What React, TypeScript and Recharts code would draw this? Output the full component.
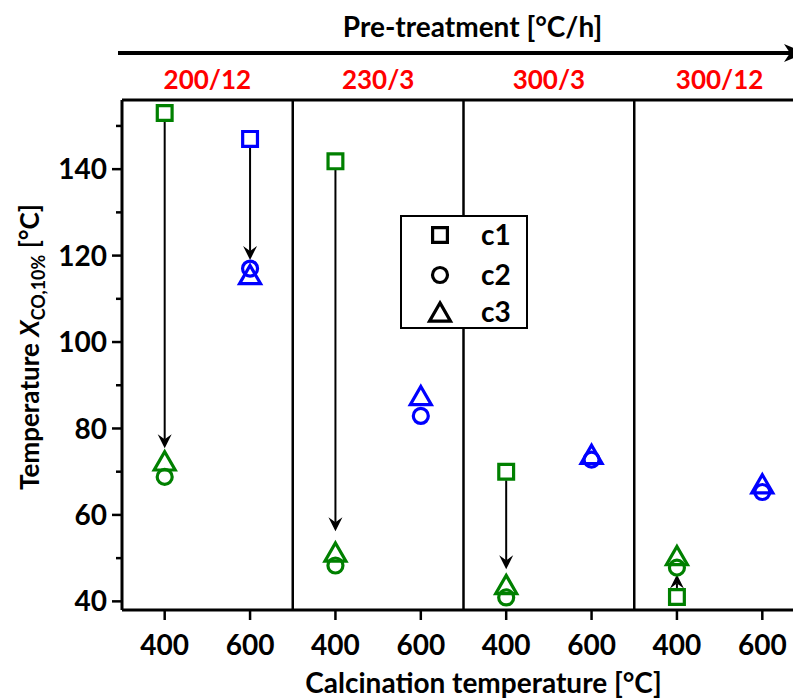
import React from 'react';
import { ScatterChart, Scatter, XAxis, YAxis, ReferenceLine, Legend } from 'recharts';

// ---------- data ----------
const positions = [1, 2, 3, 4, 5, 6, 7, 8];
const calcTemps = ['400', '600', '400', '600', '400', '600', '400', '600'];
const pretreatments = ['200/12', '230/3', '300/3', '300/12'];
const pretreatmentCenters = [1.5, 3.5, 5.5, 7.5];
const groupSeparators = [2.5, 4.5, 6.5];
const seriesNames = ['c1', 'c2', 'c3'];
const c1Values = [153, 147, 141.8, null, 70, null, 41, null];
const c2Values = [68.8, 117, 48.3, 82.9, 40.9, 72.8, 47.8, 65.3];
const c3Values = [72.5, 115.6, 51.4, 87.6, 43.9, 74, 50.6, 67.2];
const arrowX = [1, 2, 3, 5, 7];
const arrowFrom = [151.1, 145.1, 139.8, 68.0, 43.1];
const arrowTo = [75.4, 119.0, 56.2, 47.4, 46.2];
const yTicks = [40, 50, 60, 70, 80, 90, 100, 110, 120, 130, 140, 150];
const yLabeledTicks = [40, 60, 80, 100, 120, 140];
const yDomain = [38, 156];
const xDomain = [0.5, 8.5];

const tempColors: Record<string, string> = { '400': '#008000', '600': '#0000FF' };
const FONT = 'Lato, "Open Sans", sans-serif';

const buildData = (vals: (number | null)[]) =>
  positions
    .map((p, i) => ({ x: p, y: vals[i], temp: calcTemps[i] }))
    .filter((d) => d.y !== null && d.y !== undefined);

const c1Data = buildData(c1Values);
const c2Data = buildData(c2Values);
const c3Data = buildData(c3Values);

// ---------- marker shapes ----------
const SQ = 7.4;
const CR = 7.5;
const TS = 21;
const SW = 3.2;

const squarePath = (cx: number, cy: number) =>
  `M${cx - SQ},${cy - SQ}H${cx + SQ}V${cy + SQ}H${cx - SQ}Z`;
const trianglePath = (cx: number, cy: number) => {
  const h = (TS * Math.sqrt(3)) / 2;
  return `M${cx},${cy - h / 2}L${cx + TS / 2},${cy + h / 2}L${cx - TS / 2},${cy + h / 2}Z`;
};

const SquareShape = (props: any) => {
  const { cx, cy, payload } = props;
  return <path d={squarePath(cx, cy)} fill="none" stroke={tempColors[payload.temp]} strokeWidth={SW} />;
};
const CircleShape = (props: any) => {
  const { cx, cy, payload } = props;
  return <circle cx={cx} cy={cy} r={CR} fill="none" stroke={tempColors[payload.temp]} strokeWidth={SW} />;
};
const TriangleShape = (props: any) => {
  const { cx, cy, payload } = props;
  return <path d={trianglePath(cx, cy)} fill="none" stroke={tempColors[payload.temp]} strokeWidth={SW} />;
};

// ---------- arrows ----------
const ArrowShape = (props: any) => {
  const { x1, y1, x2, y2 } = props;
  const dir = y2 > y1 ? 1 : -1;
  const L = 14;
  const W = 7;
  const N = 9;
  const d = `M${x2},${y2}L${x2 + W},${y2 - dir * L}L${x2},${y2 - dir * N}L${x2 - W},${y2 - dir * L}Z`;
  return (
    <g>
      <line x1={x1} y1={y1} x2={x2} y2={y2 - dir * N} stroke="#000" strokeWidth={2} />
      <path d={d} fill="#000" />
    </g>
  );
};

// ---------- ticks ----------
const TICK_FS = 28;

const LeftTick = (props: any) => {
  const { x, y, payload } = props;
  const v = payload.value;
  const major = yLabeledTicks.includes(v);
  return (
    <g>
      <line x1={x - (major ? 10 : 6)} x2={x} y1={y} y2={y} stroke="#000" strokeWidth={2.5} />
      {major && (
        <text x={x - 15} y={y} dy="0.36em" textAnchor="end" fontFamily={FONT} fontWeight={700} fontSize={TICK_FS} fill="#000">
          {v}
        </text>
      )}
    </g>
  );
};

const RightTick = (props: any) => {
  const { x, y, payload } = props;
  const major = yLabeledTicks.includes(payload.value);
  return <line x1={x - (major ? 12 : 7)} x2={x} y1={y} y2={y} stroke="#000" strokeWidth={2.5} />;
};

const BottomTick = (props: any) => {
  const { x, y, payload } = props;
  const idx = positions.indexOf(payload.value);
  const label = calcTemps[idx >= 0 ? idx : props.index];
  return (
    <text x={x} y={y} dy={35} textAnchor="middle" fontFamily={FONT} fontWeight={700} fontSize={TICK_FS} fill="#000">
      {label}
    </text>
  );
};

const TopTick = (props: any) => {
  const { x, y, payload } = props;
  const idx = pretreatmentCenters.indexOf(Number(payload.value));
  const label = pretreatments[idx >= 0 ? idx : props.index];
  return (
    <text x={x} y={y} dy={-11} textAnchor="middle" fontFamily={FONT} fontWeight={700} fontSize={26} fill="#FF0000">
      {label}
    </text>
  );
};

// ---------- axis titles ----------
const TITLE_FS = 28;

const TopTitle = (props: any) => {
  const { x, y, width } = props.viewBox;
  const right = x + width;
  const ay = y + 45;
  return (
    <g>
      <text x={x + width / 2 + 9} y={y + 29} textAnchor="middle" fontFamily={FONT} fontWeight={700} fontSize={TITLE_FS} fill="#000">
        Pre-treatment [°C/h]
      </text>
      <line x1={x - 4} y1={ay} x2={right - 14} y2={ay} stroke="#000" strokeWidth={4} />
      <path d={`M${right},${ay}L${right - 21},${ay - 9}L${right - 15},${ay}L${right - 21},${ay + 9}Z`} fill="#000" />
    </g>
  );
};

const BottomTitle = (props: any) => {
  const { x, y, width } = props.viewBox;
  return (
    <text x={x + width / 2 + 20} y={y + 83} textAnchor="middle" fontFamily={FONT} fontWeight={700} fontSize={TITLE_FS} fill="#000">
      Calcination temperature [°C]
    </text>
  );
};

const LeftTitle = (props: any) => {
  const { y, height } = props.viewBox;
  const cx = 22;
  const cy = y + height / 2 - 8;
  return (
    <text
      x={cx}
      y={cy}
      transform={`rotate(-90, ${cx}, ${cy})`}
      textAnchor="middle"
      dy="0.36em"
      fontFamily={FONT}
      fontWeight={700}
      fontSize={26}
      fill="#000"
    >
      <tspan>Temperature </tspan>
      <tspan fontStyle="italic">X</tspan>
      <tspan dy={6} fontSize={18}>CO,10%</tspan>
      <tspan dy={-6}> [°C]</tspan>
    </text>
  );
};

// ---------- legend ----------
const legendShapes = [
  (cx: number, cy: number) => <path d={squarePath(cx, cy)} fill="none" stroke="#000" strokeWidth={SW} />,
  (cx: number, cy: number) => <circle cx={cx} cy={cy} r={CR} fill="none" stroke="#000" strokeWidth={SW} />,
  (cx: number, cy: number) => <path d={trianglePath(cx, cy)} fill="none" stroke="#000" strokeWidth={SW} />,
];
const legendRows = [18, 58, 95];

const LegendBox = () => (
  <div style={{ width: 128, height: 114, background: '#fff', border: '2px solid #000', boxSizing: 'border-box' }}>
    <svg width={124} height={110} style={{ display: 'block' }}>
      {seriesNames.map((name, i) => (
        <g key={name}>
          {legendShapes[i](38, legendRows[i])}
          <text x={79} y={legendRows[i]} dy="0.36em" fontFamily={FONT} fontWeight={700} fontSize={28} fill="#000">
            {name}
          </text>
        </g>
      ))}
    </svg>
  </div>
);

export default function App() {
  return (
    <div style={{ width: 793, height: 690, overflow: 'hidden', position: 'relative', fontFamily: FONT }}>
      <ScatterChart width={812} height={690} margin={{ top: 0, right: 15, bottom: 0, left: 0 }}>
        <XAxis
          xAxisId="bottom"
          dataKey="x"
          type="number"
          orientation="bottom"
          domain={xDomain}
          ticks={positions}
          allowDataOverflow
          interval={0}
          height={88}
          tickSize={10}
          tickMargin={0}
          tickLine={{ stroke: '#000', strokeWidth: 2.5 }}
          axisLine={{ stroke: '#000', strokeWidth: 3 }}
          tick={BottomTick}
          label={{ content: BottomTitle } as any}
        />
        <XAxis
          xAxisId="top"
          dataKey="x"
          type="number"
          orientation="top"
          domain={xDomain}
          ticks={pretreatmentCenters}
          allowDataOverflow
          interval={0}
          height={92}
          tickSize={0}
          tickMargin={0}
          tickLine={false}
          axisLine={{ stroke: '#000', strokeWidth: 3 }}
          tick={TopTick}
          label={{ content: TopTitle } as any}
        />
        <YAxis
          yAxisId="left"
          dataKey="y"
          type="number"
          orientation="left"
          domain={yDomain}
          ticks={yTicks}
          allowDataOverflow
          width={114}
          tickSize={0}
          tickMargin={0}
          tickLine={false}
          axisLine={{ stroke: '#000', strokeWidth: 3 }}
          tick={LeftTick}
          interval={0}
          label={{ content: LeftTitle } as any}
        />
        <YAxis
          yAxisId="right"
          dataKey="y"
          type="number"
          orientation="right"
          mirror
          domain={yDomain}
          ticks={yTicks}
          allowDataOverflow
          width={0}
          tickSize={0}
          tickMargin={0}
          tickLine={false}
          interval={0}
          axisLine={{ stroke: '#000', strokeWidth: 3 }}
          tick={RightTick}
        />
        {groupSeparators.map((s) => (
          <ReferenceLine key={s} x={s} xAxisId="bottom" yAxisId="left" stroke="#000" strokeWidth={2.5} />
        ))}
        {arrowX.map((ax, i) => (
          <ReferenceLine
            key={`arrow-${i}`}
            xAxisId="bottom"
            yAxisId="left"
            segment={[{ x: ax, y: arrowFrom[i] }, { x: ax, y: arrowTo[i] }]}
            shape={ArrowShape}
          />
        ))}
        <Scatter name={seriesNames[0]} data={c1Data} xAxisId="bottom" yAxisId="left" shape={SquareShape} isAnimationActive={false} />
        <Scatter name={seriesNames[1]} data={c2Data} xAxisId="top" yAxisId="right" shape={CircleShape} isAnimationActive={false} />
        <Scatter name={seriesNames[2]} data={c3Data} xAxisId="bottom" yAxisId="left" shape={TriangleShape} isAnimationActive={false} />
        <Legend
          layout="horizontal"
          verticalAlign="middle"
          align="center"
          content={LegendBox}
          wrapperStyle={{ left: 392, top: 207, width: 128, height: 114 }}
        />
      </ScatterChart>
    </div>
  );
}
